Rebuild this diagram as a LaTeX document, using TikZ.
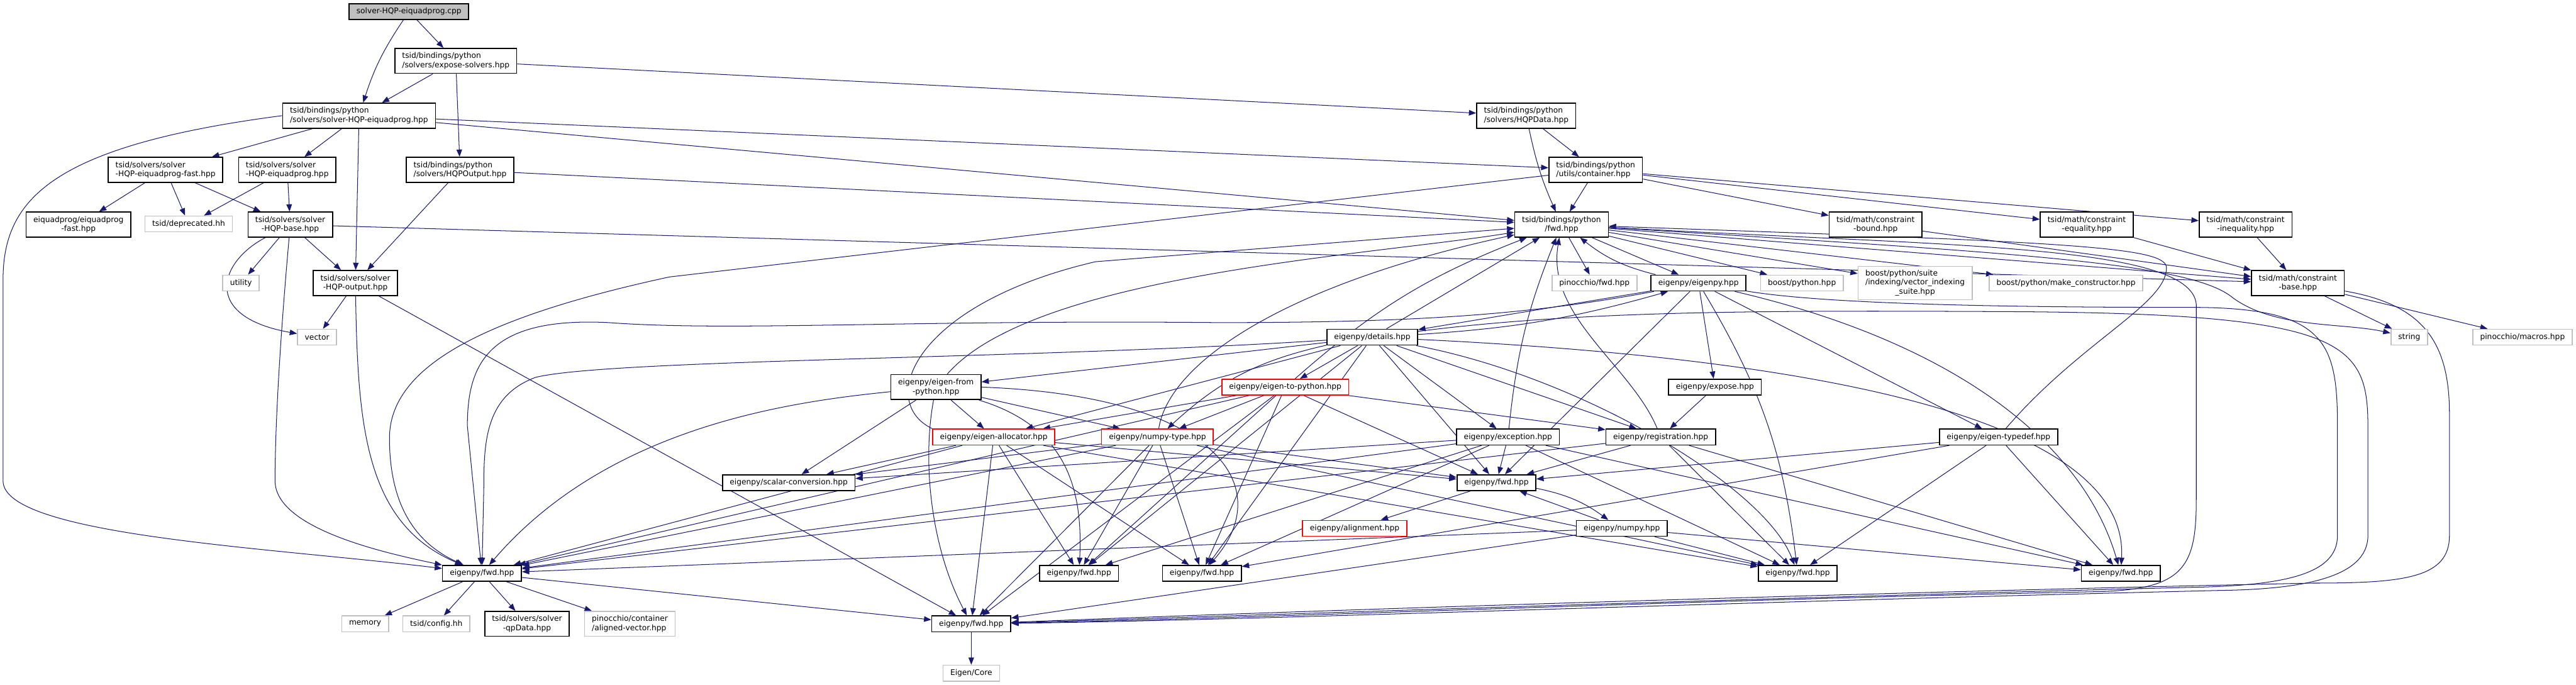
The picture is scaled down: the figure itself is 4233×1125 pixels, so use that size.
\documentclass[tikz,border=0pt]{standalone}
\usepackage{fontspec}
\setmainfont{DejaVu Sans}
\usepackage{tikz}
\usetikzlibrary{arrows.meta, backgrounds}
\definecolor{edgeblue}{RGB}{25,25,112}
\definecolor{rootgray}{RGB}{191,191,191}
\definecolor{extgray}{RGB}{191,191,191}
\definecolor{truncred}{RGB}{255,0,0}

\begin{document}
\begin{tikzpicture}[
    x=0.025cm, y=-0.025cm,
    file/.style={rectangle, draw=black, fill=white, line width=1.2pt, font=\fontsize{9}{10.7}\selectfont, inner xsep=0.3cm, inner ysep=2pt, minimum height=0.65cm, align=center},
    two/.style={minimum height=1.025cm},
    root/.style={file, fill=rootgray},
    ext/.style={file, draw=extgray},
    trunc/.style={file, draw=truncred},
    arrow/.style={-{Triangle[length=8.5pt,width=6.5pt]}, color=edgeblue, line width=0.75pt},
]
\useasboundingbox (0,0) rectangle (4233,1125);

% Top: the source file and the python bindings
\node[root] (cpp) at (672,19) {solver-HQP-eiquadprog.cpp};
\node[file, two, align=left] (expose) at (749,100) {tsid/bindings/python\\/solvers/expose-solvers.hpp};
\node[file, two, align=left] (bsolver) at (590,190) {tsid/bindings/python\\/solvers/solver-HQP-eiquadprog.hpp};
\node[file, two, align=left] (hqpdata) at (2508,190) {tsid/bindings/python\\/solvers/HQPData.hpp};
\node[file, two, align=left] (container) at (2622,279) {tsid/bindings/python\\/utils/container.hpp};
\node[file, two, align=left] (sfast) at (272,279) {tsid/solvers/solver\\-HQP-eiquadprog-fast.hpp};
\node[file, two, align=left] (seiq) at (472,279) {tsid/solvers/solver\\-HQP-eiquadprog.hpp};
\node[file, two, align=left] (hqpoutb) at (756,279) {tsid/bindings/python\\/solvers/HQPOutput.hpp};

% Solver headers
\node[file, two] (eqfast) at (129,369) {eiquadprog/eiquadprog\\-fast.hpp};
\node[ext] (deprec) at (310,368) {tsid/deprecated.hh};
\node[file, two] (hqpbase) at (477,369) {tsid/solvers/solver\\-HQP-base.hpp};
\node[ext] (utility) at (396,465) {utility};
\node[file, two] (hqpout) at (584,465) {tsid/solvers/solver\\-HQP-output.hpp};
\node[ext] (vector) at (521,554) {vector};

% Python fwd and constraints
\node[file, two] (pyfwd) at (2566,369) {tsid/bindings/python\\/fwd.hpp};
\node[file, two] (cbound) at (3082,369) {tsid/math/constraint\\-bound.hpp};
\node[file, two] (cequal) at (3429,369) {tsid/math/constraint\\-equality.hpp};
\node[file, two] (cineq) at (3690,369) {tsid/math/constraint\\-inequality.hpp};
\node[ext] (pinfwd) at (2620,465) {pinocchio/fwd.hpp};
\node[file] (eigenpy) at (2791,465) {eigenpy/eigenpy.hpp};
\node[ext] (boostpy) at (2961,465) {boost/python.hpp};
\node[ext, minimum height=1.375cm] (vis) at (3147,465)
    {\begin{tabular}{@{}l@{}}boost/python/suite\\/indexing/vector\_indexing\\\multicolumn{1}{@{}c@{}}{\_suite.hpp}\end{tabular}};
\node[ext] (makecons) at (3395,465) {boost/python/make\_constructor.hpp};
\node[file, two] (cbase) at (3776,465) {tsid/math/constraint\\-base.hpp};
\node[ext] (string) at (3959,554) {string};
\node[ext] (pinmacros) at (4145,554) {pinocchio/macros.hpp};

% eigenpy headers
\node[file] (details) at (2255,554) {eigenpy/details.hpp};
\node[file, two] (efp) at (1538,636) {eigenpy/eigen-from\\-python.hpp};
\node[trunc] (e2p) at (2112,636) {eigenpy/eigen-to-python.hpp};
\node[file] (expo) at (2818,636) {eigenpy/expose.hpp};
\node[trunc] (ealloc) at (1633,718) {eigenpy/eigen-allocator.hpp};
\node[trunc] (ntype) at (1902,718) {eigenpy/numpy-type.hpp};
\node[file] (except) at (2478,718) {eigenpy/exception.hpp};
\node[file] (regist) at (2729,718) {eigenpy/registration.hpp};
\node[file] (etypedef) at (3284,718) {eigenpy/eigen-typedef.hpp};
\node[file] (scalar) at (1296,793) {eigenpy/scalar-conversion.hpp};
\node[file] (fwdA) at (2459,793) {eigenpy/fwd.hpp};
\node[trunc] (align) at (2226,868) {eigenpy/alignment.hpp};
\node[file] (numpy) at (2665,868) {eigenpy/numpy.hpp};

% fwd row and leaves
\node[file] (fwdB) at (792,942) {eigenpy/fwd.hpp};
\node[file] (fwdC) at (1773,942) {eigenpy/fwd.hpp};
\node[file] (fwdD) at (1975,942) {eigenpy/fwd.hpp};
\node[file] (fwdE) at (2954,942) {eigenpy/fwd.hpp};
\node[file] (fwdF) at (3485,942) {eigenpy/fwd.hpp};
\node[file] (fwdG) at (1596,1025) {eigenpy/fwd.hpp};
\node[ext] (memory) at (600,1025) {memory};
\node[ext] (config) at (717,1025) {tsid/config.hh};
\node[file, two] (qpdata) at (866,1025) {tsid/solvers/solver\\-qpData.hpp};
\node[ext, two, align=left] (alvec) at (1035,1025) {pinocchio/container\\/aligned-vector.hpp};
\node[ext] (eigencore) at (1596,1106) {Eigen/Core};

\begin{scope}[on background layer]
% Arrows: bindings
\draw[arrow] (cpp) -- (expose);
\draw[arrow] (cpp) to[bend right=8] (bsolver);
\draw[arrow] (expose) -- (bsolver);
\draw[arrow] (expose) -- (hqpoutb);
\draw[arrow] (expose) -- (hqpdata);
\draw[arrow] (bsolver) -- (sfast);
\draw[arrow] (bsolver) -- (seiq);
\draw[arrow] (bsolver) -- (hqpout);
\draw[arrow] (bsolver) -- (container);
\draw[arrow] (bsolver) -- (pyfwd);
\draw[arrow] (bsolver.west) .. controls (80,240) and (5,330) .. (5,460) -- (5,790) .. controls (5,880) and (450,900) .. (fwdB);
\draw[arrow] (hqpdata) -- (container);
\draw[arrow] (hqpdata) to[bend right=6] (pyfwd);
\draw[arrow] (container) -- (pyfwd);
\draw[arrow] (container) -- (cbound);
\draw[arrow] (container) -- (cequal);
\draw[arrow] (container) -- (cineq);
\draw[arrow] (container) -- (1100,455) .. controls (800,520) and (640,600) .. (640,720) .. controls (640,850) and (700,900) .. (fwdB);
\draw[arrow] (hqpoutb) -- (hqpout);
\draw[arrow] (hqpoutb) -- (pyfwd);

% Arrows: solvers
\draw[arrow] (sfast) -- (eqfast);
\draw[arrow] (sfast) -- (deprec);
\draw[arrow] (sfast) -- (hqpbase);
\draw[arrow] (seiq) -- (deprec);
\draw[arrow] (seiq) -- (hqpbase);
\draw[arrow] (hqpbase) -- (utility);
\draw[arrow] (hqpbase) .. controls (360,430) and (330,520) .. (vector);
\draw[arrow] (hqpbase) -- (hqpout);
\draw[arrow] (hqpbase) .. controls (460,560) and (452,700) .. (452,790) .. controls (452,870) and (640,910) .. (fwdB);
\draw[arrow] (hqpbase) -- (cbase);
\draw[arrow] (hqpout) -- (vector);
\draw[arrow] (hqpout) .. controls (588,700) and (600,860) .. (fwdB);
\draw[arrow] (hqpout) -- (fwdG);

% Arrows: constraints
\draw[arrow] (cbound) -- (cbase);
\draw[arrow] (cequal) -- (cbase);
\draw[arrow] (cineq) -- (cbase);
\draw[arrow] (cbase) -- (string);
\draw[arrow] (cbase) -- (pinmacros);
\draw[arrow] (cbase) .. controls (3980,500) and (4025,560) .. (4025,680) -- (4025,880) .. controls (4025,950) and (3950,958) .. (3800,958) .. controls (3000,975) and (2100,1005) .. (fwdG);

% Arrows: python fwd
\draw[arrow] (pyfwd) -- (pinfwd);
\draw[arrow] (pyfwd) -- (eigenpy);
\draw[arrow] (pyfwd) -- (boostpy);
\draw[arrow] (pyfwd) -- (vis);
\draw[arrow] (pyfwd) -- (makecons);
\draw[arrow] (pyfwd) -- (cbase);
\draw[arrow] (pyfwd) .. controls (3300,415) and (3600,430) .. (3670,490) .. controls (3740,540) and (3850,530) .. (string);
\draw[arrow] (pyfwd) .. controls (3200,405) and (3600,400) .. (3609,500) -- (3609,820) .. controls (3609,930) and (3590,968) .. (3450,972) .. controls (2800,985) and (2100,1015) .. (fwdG);

% Arrows: eigenpy
\draw[arrow] (eigenpy) to[bend left=12] (pyfwd);
\draw[arrow] (eigenpy) -- (details);
\draw[arrow] (details) to[bend right=6] (eigenpy);
\draw[arrow] (eigenpy) -- (expo);
\draw[arrow] (eigenpy) -- (etypedef);
\draw[arrow] (eigenpy) -- (fwdA);
\draw[arrow] (eigenpy) to[bend left=12] (fwdE);
\draw[arrow] (eigenpy) .. controls (3200,560) and (3420,720) .. (fwdF);
\draw[arrow] (eigenpy) .. controls (3000,500) and (3300,505) .. (3600,505) .. controls (3820,505) and (3841,560) .. (3841,700) -- (3841,880) .. controls (3841,945) and (3750,962) .. (3600,965) .. controls (2800,985) and (2100,1010) .. (fwdG);
\draw[arrow] (eigenpy) .. controls (2500,520) and (2300,530) .. (2000,530) .. controls (1500,525) and (1200,545) .. (1000,530) .. controls (800,520) and (768,600) .. (768,700) -- (fwdB);

% Arrows: details
\draw[arrow] (details) -- (pyfwd);
\draw[arrow] (details) -- (e2p);
\draw[arrow] (details) -- (except);
\draw[arrow] (details) -- (regist);
\draw[arrow] (details) -- (efp);
\draw[arrow] (details) -- (ealloc);
\draw[arrow] (details) to[bend right=15] (ntype);
\draw[arrow] (details) -- (fwdA);
\draw[arrow] (details) .. controls (2600,620) and (2900,800) .. (fwdE);
\draw[arrow] (details) .. controls (2800,580) and (3500,650) .. (fwdF);
\draw[arrow] (details) -- (fwdC);
\draw[arrow] (details) -- (fwdD);
\draw[arrow] (details) .. controls (2600,510) and (2900,510) .. (3300,512) .. controls (3850,515) and (3891,560) .. (3891,700) -- (3891,880) .. controls (3891,950) and (3780,968) .. (3650,970) .. controls (2800,990) and (2100,1018) .. (fwdG);
\draw[arrow] (details) .. controls (1700,590) and (1000,590) .. (880,620) .. controls (800,650) and (795,720) .. (795,800) -- (fwdB);

% Arrows: eigen-from-python
\draw[arrow] (efp) -- (ealloc);
\draw[arrow] (efp) -- (ntype);
\draw[arrow] (efp) .. controls (1700,450) and (2250,420) .. (pyfwd);
\draw[arrow] (efp) -- (scalar);
\draw[arrow] (efp) .. controls (1300,660) and (1000,700) .. (fwdB);
\draw[arrow] (efp) .. controls (1750,700) and (1780,800) .. (fwdC);
\draw[arrow] (efp.east) .. controls (2000,650) and (2100,800) .. (fwdD);
\draw[arrow] (efp) .. controls (1515,760) and (1530,900) .. (fwdG);

% Arrows: eigen-allocator
\draw[arrow] (ealloc.north west) .. controls (1440,660) and (1500,500) .. (1800,430) -- (pyfwd);
\draw[arrow] (ealloc) -- (scalar);
\draw[arrow] (ealloc) -- (fwdC);
\draw[arrow] (ealloc) -- (fwdD);
\draw[arrow] (ealloc) -- (fwdG);
\draw[arrow] (ealloc) -- (fwdB);
\draw[arrow] (ealloc) -- (fwdA);
\draw[arrow] (ealloc) -- (fwdE);

% Arrows: numpy-type
\draw[arrow] (ntype) .. controls (1920,600) and (2100,470) .. (pyfwd);
\draw[arrow] (ntype) -- (scalar);
\draw[arrow] (ntype) -- (fwdC);
\draw[arrow] (ntype) -- (fwdD);
\draw[arrow] (ntype) -- (fwdG);
\draw[arrow] (ntype) -- (fwdB);
\draw[arrow] (ntype) -- (fwdE);
\draw[arrow] (ntype) -- (fwdA);

% Arrows: eigen-to-python
\draw[arrow] (e2p) -- (ealloc);
\draw[arrow] (e2p) -- (ntype);
\draw[arrow] (e2p) -- (regist);
\draw[arrow] (e2p) to[bend left=10] (pyfwd);
\draw[arrow] (e2p) -- (fwdA);
\draw[arrow] (e2p) -- (fwdB);
\draw[arrow] (e2p) -- (fwdC);
\draw[arrow] (e2p) -- (fwdD);
\draw[arrow] (e2p) -- (fwdG);

% Arrows: exception and registration
\draw[arrow] (except) to[bend left=8] (pyfwd);
\draw[arrow] (except) -- (fwdA);
\draw[arrow] (except) -- (fwdB);
\draw[arrow] (except) -- (fwdC);
\draw[arrow] (except) -- (fwdD);
\draw[arrow] (except) -- (fwdE);
\draw[arrow] (except) -- (fwdF);
\draw[arrow] (except) -- (scalar);
\draw[arrow] (regist) .. controls (2680,600) and (2540,520) .. (pyfwd);
\draw[arrow] (regist) -- (fwdA);
\draw[arrow] (regist) -- (fwdB);
\draw[arrow] (regist) -- (fwdE);
\draw[arrow] (regist) -- (fwdF);
\draw[arrow] (expo) -- (regist);

% Arrows: eigen-typedef and numpy
\draw[arrow] (etypedef) .. controls (3420,560) and (3560,500) .. (3560,440) .. controls (3560,405) and (3400,398) .. (pyfwd);
\draw[arrow] (etypedef) -- (fwdA);
\draw[arrow] (etypedef) -- (fwdD);
\draw[arrow] (etypedef) -- (fwdE);
\draw[arrow] (etypedef) -- (fwdF);
\draw[arrow] (numpy) -- (fwdA);
\draw[arrow] (fwdA) to[bend left=12] (numpy);
\draw[arrow] (fwdA) -- (align);
\draw[arrow] (numpy) -- (fwdE);
\draw[arrow] (numpy) -- (fwdF);
\draw[arrow] (numpy) -- (fwdB);
\draw[arrow] (numpy) -- (fwdG);

% Arrows: leaves
\draw[arrow] (fwdB) -- (memory);
\draw[arrow] (fwdB) -- (config);
\draw[arrow] (fwdB) -- (qpdata);
\draw[arrow] (fwdB) -- (alvec);
\draw[arrow] (fwdB) -- (fwdG);
\draw[arrow] (fwdG) -- (eigencore);
\end{scope}

\end{tikzpicture}
\end{document}
